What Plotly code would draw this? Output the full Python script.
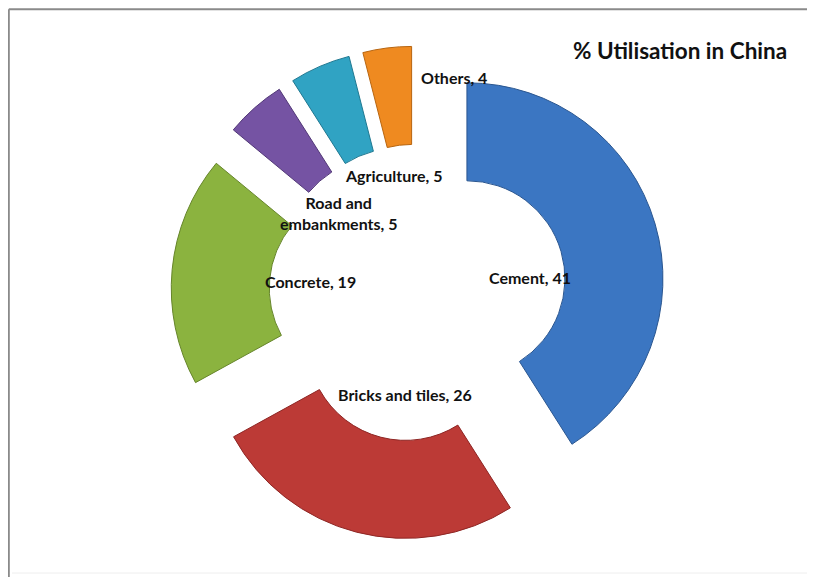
import plotly.graph_objects as go

# ---- data ----
categories = ["Cement", "Bricks and tiles", "Concrete", "Road and<br>embankments", "Agriculture", "Others"]
values = [41, 26, 19, 5, 5, 4]
colors = ["#3B76C2", "#BC3A36", "#8BB33F", "#7553A3", "#30A3C3", "#EF8A20"]
edge_colors = ["#2A5690", "#8E2624", "#66852B", "#523877", "#1F7891", "#B8650F"]
# label offsets (px) from pie centre
label_dx = [112, -13, -108, -80, -25, 36]
label_dy = [-16, 101, -12, -80, -118, -216]

# page offset (body margin) compensation
OFF = 8
W, H = 807, 569
cx_px, cy_px = 418 - OFF, 293 - OFF
R = 196
pull = 0.26
half = R * (1 + pull)

fig = go.Figure(go.Pie(
    labels=categories,
    values=values,
    sort=False,
    direction="clockwise",
    rotation=0,
    hole=0.5,
    pull=[pull] * len(values),
    marker=dict(colors=colors, line=dict(color=edge_colors, width=1)),
    textinfo="none",
    hoverinfo="label+value",
    domain=dict(x=[(cx_px - half) / W, (cx_px + half) / W],
                y=[1 - (cy_px + half) / H, 1 - (cy_px - half) / H]),
    showlegend=False,
))

annotations = []
for cat, v, dx, dy in zip(categories, values, label_dx, label_dy):
    annotations.append(dict(
        x=(cx_px + dx) / W, y=1 - (cy_px + dy) / H, xref="paper", yref="paper",
        text=f"{cat}, {v}", showarrow=False, align="center",
        font=dict(family="Lato", size=16, color="#111111", weight="bold"),
        xanchor="center", yanchor="middle"))

annotations.append(dict(
    x=(680 - OFF) / W, y=1 - (50 - OFF) / H, xref="paper", yref="paper",
    text="% Utilisation in China", showarrow=False,
    font=dict(family="Lato", size=22.5, color="#111111", weight="bold"),
    xanchor="center", yanchor="middle"))

shapes = [
    dict(type="line", xref="paper", yref="paper", x0=0.001, x1=1, y0=0.998, y1=0.998,
         line=dict(color="#8a8a8a", width=2)),
    dict(type="line", xref="paper", yref="paper", x0=0.001, x1=0.001, y0=0, y1=0.998,
         line=dict(color="#8a8a8a", width=2)),
    dict(type="line", xref="paper", yref="paper", x0=4 / W, x1=1, y0=1 - (573 - OFF) / H,
         y1=1 - (573 - OFF) / H, line=dict(color="#eeeeee", width=1)),
]

fig.update_layout(
    width=W, height=H,
    margin=dict(l=0, r=0, t=0, b=0),
    paper_bgcolor="white", plot_bgcolor="white",
    annotations=annotations, shapes=shapes,
)

fig.write_html("out.html")
